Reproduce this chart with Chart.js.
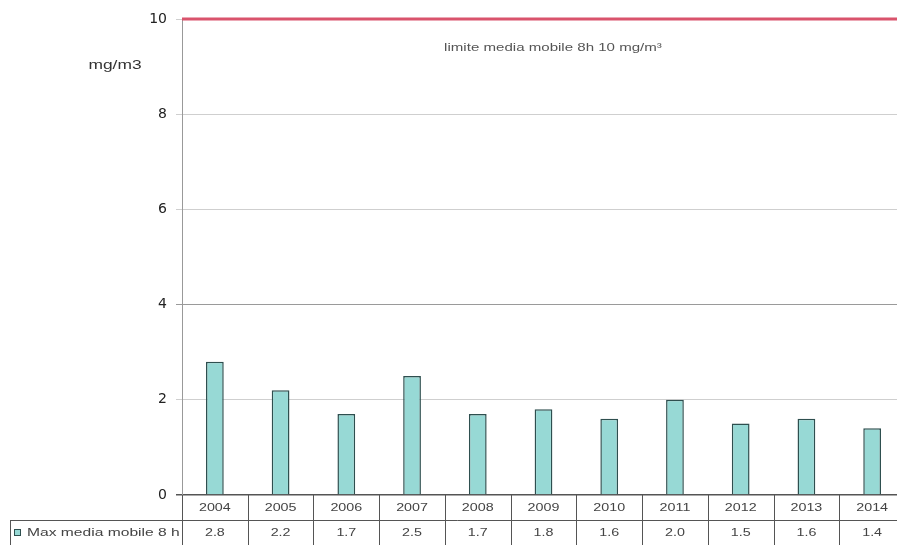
<!DOCTYPE html>
<html>
<head>
<meta charset="utf-8">
<script src="https://cdn.jsdelivr.net/npm/chart.js@4"></script>
<style>
  html, body { margin: 0; padding: 0; background: #fff; overflow: hidden; }
  #wrap { width: 897px; height: 545px; overflow: hidden; }
</style>
</head>
<body>
<div id="wrap"><canvas id="chart" width="906" height="545"></canvas></div>
<script>
const years = ['2004', '2005', '2006', '2007', '2008', '2009', '2010', '2011', '2012', '2013', '2014'];
const maxMedia8h = [2.8, 2.2, 1.7, 2.5, 1.7, 1.8, 1.6, 2.0, 1.5, 1.6, 1.4];
const yTicks = [0, 2, 4, 6, 8, 10];
const LIMIT = 10;
const seriesLabel = 'Max media mobile 8 h';
const unitLabel = 'mg/m3';
const limitLabel = 'limite media mobile 8h 10 mg/m³';

const BAR_FILL = '#97d9d5';
const BAR_EDGE = '#2e4f4f';

// scanned original looks horizontally stretched, so custom text gets a x-scale
function stretchText(ctx, text, x, y, font, align, sx) {
  ctx.save();
  ctx.font = font;
  ctx.textAlign = align;
  ctx.textBaseline = 'middle';
  ctx.translate(x, y);
  ctx.scale(sx, 1);
  ctx.fillText(text, 0, 0);
  ctx.restore();
}

const tablePlugin = {
  id: 'tableAndLimit',
  afterDraw(chart) {
    const { ctx, chartArea, scales } = chart;
    const x = scales.x, y = scales.y;

    // limit line
    const yLim = y.getPixelForValue(LIMIT);
    ctx.save();
    ctx.strokeStyle = '#d9536c';
    ctx.lineWidth = 3;
    ctx.beginPath();
    ctx.moveTo(chartArea.left, yLim);
    ctx.lineTo(chartArea.right, yLim);
    ctx.stroke();

    ctx.fillStyle = '#555';
    stretchText(ctx, limitLabel, 553, 48, '11px "Liberation Sans", Arial', 'center', 1.37);
    ctx.fillStyle = '#333';
    stretchText(ctx, unitLabel, 115, 66, '12px "Liberation Sans", Arial', 'center', 1.45);

    // data table
    const colW = x.width / years.length;
    const top = chartArea.bottom;
    const mid = top + 25;
    const bot = top + 50;
    ctx.strokeStyle = '#555';
    ctx.lineWidth = 1;
    ctx.beginPath();
    for (let i = 0; i <= years.length; i++) {
      const xx = Math.round(x.left + i * colW) + 0.5;
      ctx.moveTo(xx, top);
      ctx.lineTo(xx, bot);
    }
    ctx.moveTo(10.5, mid + 0.5);
    ctx.lineTo(x.right, mid + 0.5);
    ctx.moveTo(10.5, mid);
    ctx.lineTo(10.5, bot);
    ctx.stroke();

    ctx.fillStyle = '#444';
    years.forEach((yr, i) => {
      const cx = x.getPixelForValue(i);
      stretchText(ctx, yr, cx, top + 13, '11px "Liberation Sans", Arial', 'center', 1.3);
      stretchText(ctx, maxMedia8h[i].toFixed(1), cx, mid + 13, '11px "Liberation Sans", Arial', 'center', 1.3);
    });

    // legend key
    ctx.fillStyle = BAR_FILL;
    ctx.fillRect(14, mid + 9, 7, 7);
    ctx.strokeStyle = BAR_EDGE;
    ctx.strokeRect(14.5, mid + 9.5, 6, 6);
    ctx.fillStyle = '#444';
    stretchText(ctx, seriesLabel, 27, mid + 13, '11px "Liberation Sans", Arial', 'left', 1.42);
    ctx.restore();
  }
};

new Chart(document.getElementById('chart'), {
  type: 'bar',
  data: {
    labels: years,
    datasets: [{
      label: seriesLabel,
      data: maxMedia8h,
      backgroundColor: BAR_FILL,
      borderColor: BAR_EDGE,
      borderWidth: 1.5,
      barPercentage: 0.27,
      categoryPercentage: 1
    }]
  },
  options: {
    responsive: false,
    animation: false,
    layout: { padding: { top: 19, bottom: 50, left: 0, right: 1 } },
    plugins: { legend: { display: false }, tooltip: { enabled: false } },
    scales: {
      x: { display: false },
      y: {
        min: 0,
        max: 10,
        afterBuildTicks: (scale) => { scale.ticks = yTicks.map(v => ({ value: v })); },
        afterFit: (scale) => { scale.width = 182; },
        ticks: {
          color: '#222',
          padding: 9,
          font: { family: '"DejaVu Sans", Arial', size: 14 }
        },
        grid: {
          tickLength: 6,
          color: (c) => c.tick && c.tick.value === 0 ? '#555' : (c.tick && c.tick.value === 4 ? '#9a9a9a' : '#cfcfcf'),
          lineWidth: (c) => c.tick && c.tick.value === 0 ? 1.5 : 1
        },
        border: { color: '#999' }
      }
    }
  },
  plugins: [tablePlugin]
});
</script>
</body>
</html>
